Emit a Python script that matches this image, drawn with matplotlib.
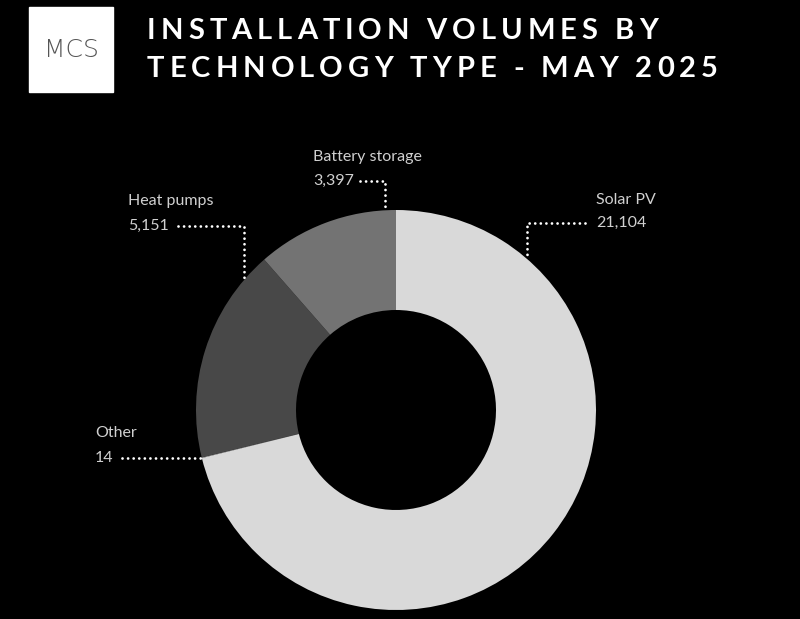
import numpy as np
import matplotlib
matplotlib.use('Agg')
import matplotlib.pyplot as plt
from matplotlib.patches import Rectangle

labels = ['Solar PV', 'Other', 'Heat pumps', 'Battery storage']
values = [21104, 14, 5151, 3397]
colors = ['#d9d9d9', '#d9d9d9', '#484848', '#737373']
title_lines = ['INSTALLATION VOLUMES BY', 'TECHNOLOGY TYPE - MAY 2025']

W, H = 800, 619
fig = plt.figure(figsize=(W / 100, H / 100), dpi=100, facecolor='black')

# donut, centre (396, 410), radius 200 px
cx, cy, R = 396, 410, 200
ax = fig.add_axes([(cx - R) / W, 1 - (cy + R) / H, 2 * R / W, 2 * R / H])
ax.pie(values, colors=colors, startangle=90, counterclock=False, radius=1,
       wedgeprops=dict(width=0.5, edgecolor='none', linewidth=0))
ax.set_xlim(-1, 1)
ax.set_ylim(-1, 1)
ax.set_facecolor('black')

# overlay in pixel coords for labels, logo and leader lines
ov = fig.add_axes([0, 0, 1, 1], facecolor='none')
ov.set_xlim(0, W)
ov.set_ylim(H, 0)
ov.axis('off')

# logo
ov.add_patch(Rectangle((29, 7), 84, 85, color='white'))
ov.text(71, 50, 'MCS', color='#555555', fontsize=18, ha='center', va='center',
        family='DejaVu Sans', fontweight='light')


def tracked_line(text, x, y, tracking, **kw):
    r = fig.canvas.get_renderer()
    for ch in text:
        t = ov.text(x, y, ch, ha='left', va='baseline', **kw)
        bb = t.get_window_extent(renderer=r)
        x += bb.width + tracking


tkw = dict(color='white', fontsize=21, fontweight='bold', family='Lato')
tracked_line(title_lines[0], 147, 39, 5.0, **tkw)
tracked_line(title_lines[1], 147, 77, 5.0, **tkw)


def edge_point(angle_deg):
    a = np.radians(angle_deg)
    return cx + R * np.sin(a), cy - R * np.cos(a)


# label layout: text x, name y, value y, line start x, elbow x, edge angle (clockwise from top)
frac_other = np.cumsum(values)[0] / sum(values) * 360
layout = {
    'Solar PV': (596, 200, 223, 585, 527, 41),
    'Battery storage': (313, 157, 181, 360, 385, -3.2),
    'Heat pumps': (128, 201, 226, 178, 244, -49.5),
    'Other': (95, 433, 458, 122, None, frac_other),
}

lkw = dict(color='#d0d0d0', fontsize=11.5, family='Lato', fontweight='normal', ha='left', va='center')
dot = dict(color='white', lw=2, linestyle=(0, (0.01, 2.0)), dash_capstyle='round')
for name, v in zip(labels, values):
    tx, ny, vy, lx, ex, ang = layout[name]
    ov.text(tx, ny, name, **lkw)
    ov.text(tx, vy, f'{v:,}', **lkw)
    px, py = edge_point(ang)
    if ex is None:
        ov.plot([lx, px], [vy, vy], **dot)
    else:
        ov.plot([lx, ex, ex], [vy, vy, py], **dot)

fig.savefig('out.png', dpi=100, facecolor='black')
